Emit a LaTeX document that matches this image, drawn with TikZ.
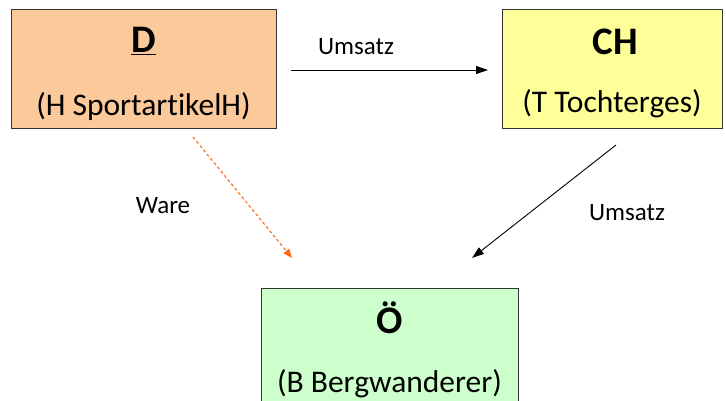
\documentclass[tikz,border=0pt]{standalone}
\usepackage{fontspec}
\setmainfont[Ligatures=NoCommon]{Carlito}
\usetikzlibrary{arrows.meta}
\definecolor{peach}{HTML}{FCC99A}
\definecolor{lyellow}{HTML}{FFFF99}
\definecolor{lgreen}{HTML}{CCFFCC}
\definecolor{borange}{HTML}{FF6A10}
\begin{document}
\begin{tikzpicture}[x=1pt,y=-1pt,
  box/.style={draw=black!80,line width=0.9pt,minimum width=#1,inner sep=0pt,rectangle},
  title/.style={font=\fontsize{39}{41}\selectfont\bfseries,anchor=base,inner sep=0pt},
  sub/.style={font=\fontsize{31.5}{33}\selectfont,anchor=base,inner sep=0pt},
  lbl/.style={font=\fontsize{25}{27}\selectfont,anchor=center,inner sep=0pt},
  arr/.style={line width=0.9pt,-{Triangle[length=12pt,width=8pt]}},
  warr/.style={line width=1.1pt,draw=borange,dash pattern=on 3pt off 2.5pt,-{Triangle[length=9pt,width=7pt]}}]
\useasboundingbox (0,0) rectangle (726,401);
\clip (0,0) rectangle (726,401);
\fill[white] (0,0) rectangle (726,401);
% boxes
\node[box=265pt,minimum height=119pt,fill=peach,anchor=north west] (D) at (11,9) {};
\node[box=220pt,minimum height=119pt,fill=lyellow,anchor=north west] (CH) at (502,9) {};
\node[box=257pt,minimum height=140pt,fill=lgreen,anchor=north west] (OE) at (261,288) {};
% texts
\node[title] (Dt) at (143.5,53) {\underline{D}};
\node[sub] (Ds) at (143.5,116) {(H SportartikelH)};
\node[title] (CHt) at (615,55) {CH};
\node[sub] (CHs) at (612,113) {(T Tochterges)};
\node[title] (Ot) at (389.5,333) {Ö};
\node[sub] (Os) at (389.5,392) {(B Bergwanderer)};
% connector ends
\coordinate (a1) at (291,70);
\coordinate (a2) at (488,70);
\coordinate (w1) at (193,137);
\coordinate (w2) at (292,258);
\coordinate (c1) at (616,145);
\coordinate (c2) at (472,258);
\draw[arr] (a1) -- (a2);
\draw[warr] (w1) -- (w2);
\draw[arr] (c1) -- (c2);
% labels
\node[lbl] (l1) at (356,47) {Umsatz};
\node[lbl] (l2) at (163,206) {Ware};
\node[lbl] (l3) at (627,213) {Umsatz};
\end{tikzpicture}
\end{document}
